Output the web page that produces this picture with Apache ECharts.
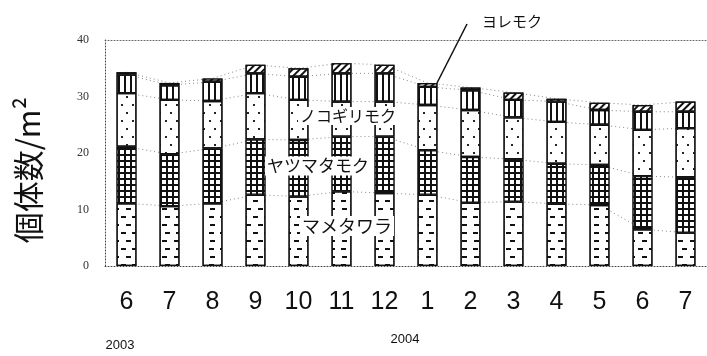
<!DOCTYPE html>
<html>
<head>
<meta charset="utf-8">
<script src="https://cdn.jsdelivr.net/npm/echarts@6/dist/echarts.min.js"></script>
<style>html,body{margin:0;padding:0;background:#fff}#c{width:707px;height:356px}</style>
</head>
<body>
<div id="c"></div>
<script>
var months = ['6','7','8','9','10','11','12','1','2','3','4','5','6','7'];
var yTicks = [0, 10, 20, 30, 40];
var mamatawara = [11.1, 10.6, 11.1, 12.6, 12.3, 13.2, 12.9, 12.6, 11.2, 11.4, 11.0, 10.8, 6.5, 5.9];
var yatsumatamoku = [10.0, 9.2, 9.7, 9.8, 10.0, 9.7, 10.0, 7.9, 8.1, 7.5, 7.1, 7.1, 9.4, 9.8];
var nokogirimoku = [9.5, 9.6, 8.4, 8.2, 7.1, 6.2, 6.2, 8.0, 8.3, 7.4, 7.4, 7.1, 8.2, 8.7];
var yoremoku = [3.3, 2.6, 3.4, 3.5, 4.1, 5.0, 5.0, 3.2, 3.5, 3.1, 3.6, 2.6, 3.2, 2.9];
var sonota = [0.4, 0.4, 0.6, 1.5, 1.5, 1.8, 1.5, 0.7, 0.5, 1.3, 0.5, 1.3, 1.2, 1.8];
var years = ['2003', '2004'];

var chart = echarts.init(document.getElementById('c'));
var stacks = [mamatawara, yatsumatamoku, nokogirimoku, yoremoku, sonota];
var names = ['マメタワラ', 'ヤツマタモク', 'ノコギリモク', 'ヨレモク', 'その他'];
var styles = [
  {color: '#fff', decal: {symbol: 'rect', symbolSize: 1, color: '#111', dashArrayX: [[5, 6], [0, 5.5, 5, 0.5]], dashArrayY: [1.5, 6]}},
  {color: '#111', decal: {symbol: 'rect', symbolSize: 1, color: '#fff', dashArrayX: [3.8, 1.2], dashArrayY: [3.8, 1.2]}},
  {color: '#fff', decal: {symbol: 'rect', symbolSize: 1, color: '#222', dashArrayX: [[1.5, 9], [0, 5, 1.5, 3.5]], dashArrayY: [1.5, 6]}},
  {color: '#fff', decal: {symbol: 'rect', symbolSize: 1, color: '#111', dashArrayX: [1, 0], dashArrayY: [1.4, 3.6], rotation: Math.PI / 2}},
  {color: '#fff', decal: {symbol: 'rect', symbolSize: 1, color: '#111', dashArrayX: [1, 0], dashArrayY: [1.4, 2.6], rotation: -Math.PI / 4}}
];
var series = [];
var cum = months.map(function () { return 0; });
stacks.forEach(function (arr, i) {
  series.push({
    name: names[i], type: 'bar', stack: 'a', barWidth: 20, z: 3,
    data: arr,
    itemStyle: {color: styles[i].color, decal: styles[i].decal, borderColor: '#111', borderWidth: 1.2}
  });
  cum = cum.map(function (c, k) { return +(c + arr[k]).toFixed(2); });
  series.push({
    type: 'line', z: 1, symbol: 'none', silent: true,
    data: cum.slice(),
    lineStyle: {color: '#888', width: 1, type: [1, 3]}
  });
});

var jp = '"Noto Sans CJK JP", sans-serif';
chart.setOption({
  animation: false,
  backgroundColor: '#fff',
  grid: {left: 105, right: -6, top: 40, bottom: 90},
  xAxis: [{
    type: 'category', data: months,
    axisLine: {lineStyle: {color: '#444', type: [1, 2], width: 1}},
    axisTick: {show: false},
    axisLabel: {fontSize: 25, color: '#111', margin: 24, fontFamily: '"Liberation Sans", sans-serif'}
  }, {
    type: 'category', data: months, position: 'top',
    axisLine: {lineStyle: {color: '#666', type: [1, 2], width: 1}},
    axisTick: {show: false}, axisLabel: {show: false}
  }],
  yAxis: {
    type: 'value', min: yTicks[0], max: yTicks[yTicks.length - 1], interval: 10,
    axisLine: {show: true, lineStyle: {color: '#444', type: [1, 2], width: 1}},
    axisTick: {show: false},
    splitLine: {show: false},
    axisLabel: {fontSize: 12, color: '#333', margin: 16, fontFamily: '"Liberation Serif", serif'}
  },
  series: series,
  graphic: [
    {type: 'text', x: 28, y: 170, rotation: Math.PI / 2, style: {text: '個体数/m²', fill: '#111', font: '31px ' + jp, textAlign: 'center', textVerticalAlign: 'middle'}},
    {type: 'text', x: 120, y: 345, style: {text: years[0], font: '13px "Liberation Sans", sans-serif', fill: '#111', textAlign: 'center', textVerticalAlign: 'middle'}},
    {type: 'text', x: 405, y: 339, style: {text: years[1], font: '13px "Liberation Sans", sans-serif', fill: '#111', textAlign: 'center', textVerticalAlign: 'middle'}},
    {type: 'text', x: 348, y: 116, z: 100, style: {text: 'ノコギリモク', font: '16px ' + jp, fill: '#111', textAlign: 'center', textVerticalAlign: 'middle', backgroundColor: '#fff', padding: [1, 2]}},
    {type: 'text', x: 318, y: 166, z: 100, style: {text: 'ヤツマタモク', font: '17px ' + jp, fill: '#111', textAlign: 'center', textVerticalAlign: 'middle', backgroundColor: '#fff', padding: [1, 2]}},
    {type: 'text', x: 347, y: 226, z: 100, style: {text: 'マメタワラ', font: '18px ' + jp, fill: '#111', textAlign: 'center', textVerticalAlign: 'middle', backgroundColor: '#fff', padding: [1, 2]}},
    {type: 'text', x: 512, y: 21, z: 100, style: {text: 'ヨレモク', font: '15px ' + jp, fill: '#111', textAlign: 'center', textVerticalAlign: 'middle'}},
    {type: 'line', z: 100, shape: {x1: 467, y1: 24, x2: 437, y2: 83}, style: {stroke: '#111', lineWidth: 1.5}}
  ]
});
</script>
</body>
</html>
